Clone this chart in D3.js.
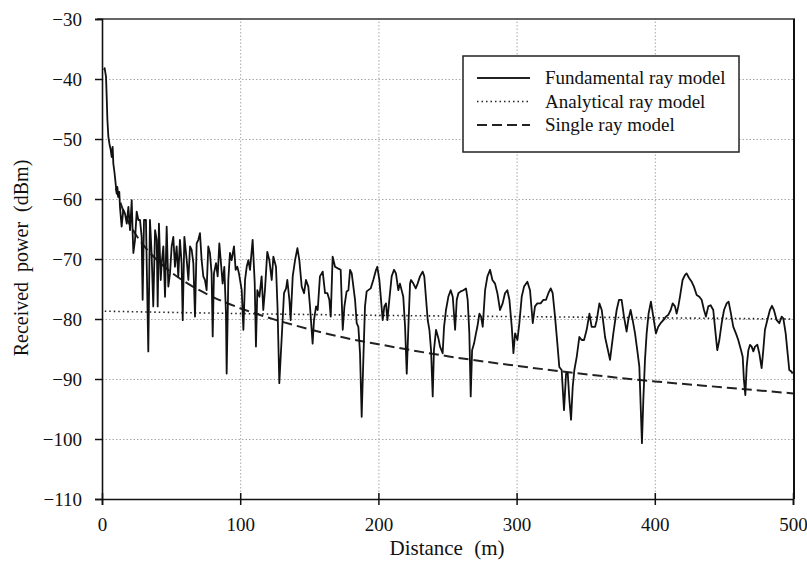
<!DOCTYPE html>
<html><head><meta charset="utf-8">
<script src="https://cdn.jsdelivr.net/npm/d3@7"></script>
<style>
html,body{margin:0;padding:0;background:#fff;}
svg text{font-family:"Liberation Serif","Times New Roman",serif;fill:#111;}
</style></head>
<body><svg id="chart" width="807" height="580"></svg>
<script>
// ---- data ----
const xTicks = [0, 100, 200, 300, 400, 500];
const yTicks = [-30, -40, -50, -60, -70, -80, -90, -100, -110];
const legendLabels = ["Fundamental ray model", "Analytical ray model", "Single ray model"];

const fundDistance = [1.5,1.9,2.9,3.4,3.9,4.6,5.3,6.3,7.0,7.7,8.2,9.0,9.6,10.6,11.1,11.8,12.5,13.0,14.2,15.4,16.6,17.9,19.1,20.3,21.5,22.2,22.7,23.9,25.1,26.3,27.5,28.7,29.4,30.4,31.8,33.5,34.7,35.9,37.1,38.4,39.6,40.3,41.2,42.5,43.2,44.4,45.6,46.8,48.0,49.2,50.4,51.6,52.8,54.0,55.2,56.4,57.6,58.4,59.6,61.3,62.5,63.7,64.9,66.1,67.3,68.5,69.7,70.9,72.1,73.3,74.5,75.7,76.9,78.1,79.3,80.1,81.0,82.5,83.7,84.9,85.9,87.3,88.5,89.7,90.2,91.4,92.6,93.8,95.5,96.7,97.9,99.1,101.1,102.3,103.5,104.7,105.9,
107.1,109.0,110.5,111.4,112.4,113.9,115.5,116.7,117.9,119.6,121.1,122.8,124.0,125.9,127.0,128.3,129.3,130.7,131.7,133.2,134.1,135.6,136.5,138.0,139.7,141.4,142.8,144.5,146.2,147.6,149.3,150.5,152.4,153.4,154.9,156.1,157.7,159.7,161.4,163.1,164.5,165.5,166.9,168.6,171.0,172.7,174.2,175.4,177.0,178.3,179.5,180.7,181.9,183.1,184.3,185.5,186.7,187.9,189.1,190.3,191.5,194.4,196.3,198.3,199.2,200.7,201.9,203.1,204.3,205.5,206.5,207.9,209.6,211.3,212.7,214.4,215.6,218.0,219.3,220.5,221.7,222.9,223.6,225.3,227.0,228.4,230.1,232.0,233.2,235.7,236.9,238.1,239.3,240.2,241.7,243.4,244.6,
246.5,247.5,248.9,250.6,252.3,253.8,255.5,256.7,257.9,259.6,261.5,263.4,264.6,265.8,266.8,267.8,269.2,270.6,271.6,273.1,274.3,275.5,277.2,278.9,280.8,282.5,284.4,286.1,288.0,289.9,291.6,293.3,294.8,296.5,297.7,298.9,300.6,302.0,303.7,305.4,307.8,309.7,311.7,313.3,315.0,317.4,319.4,321.3,323.0,324.7,326.1,327.8,329.5,330.9,332.6,334.3,335.8,337.0,338.2,339.4,340.6,341.8,343.5,345.4,347.1,348.8,350.7,352.7,354.3,356.8,358.0,359.9,361.6,362.8,364.0,367.6,368.8,370.0,372.4,374.1,
376.0,377.7,379.6,380.8,382.5,384.0,385.7,387.3,388.8,389.8,390.7,391.7,392.9,394.1,395.5,397.2,398.9,400.8,402.5,404.2,406.2,408.1,409.8,411.5,412.9,414.6,415.8,417.0,418.2,420.1,421.8,423.0,424.9,426.7,428.3,430.3,432.2,433.9,435.6,437.0,438.7,440.4,442.3,443.5,445.2,446.7,448.4,450.1,452.0,453.4,455.1,456.8,458.7,460.4,462.4,463.6,464.5,465.5,466.5,467.7,468.9,470.1,471.3,472.5,474.2,475.6,477.3,478.5,479.7,481.4,483.3,484.8,486.2,488.2,490.1,491.8,493.0,494.7,496.1,497.3,499.0,499.7];

const fundPower = [-38.5,-38.2,-39.6,-43.0,-46.8,-49.6,-50.7,-51.8,-53.0,-51.3,-54.1,-55.5,-56.8,-59.1,-58.0,-59.6,-58.8,-61.3,-64.6,-61.8,-62.4,-64.1,-61.3,-65.2,-60.2,-65.7,-69.0,-66.8,-62.1,-63.5,-63.5,-66.3,-76.8,-63.5,-63.5,-85.4,-63.5,-69.1,-77.9,-65.2,-66.8,-77.9,-64.1,-73.5,-70.7,-67.9,-76.3,-64.6,-74.6,-72.4,-67.9,-66.3,-71.3,-67.9,-72.9,-66.8,-70.7,-80.2,-66.3,-70.2,-73.5,-67.9,-68.5,-70.7,-79.6,-67.4,-66.8,-65.7,-70.2,-72.9,-73.5,-75.2,-67.9,-69.0,-72.4,-82.9,-72.4,-70.7,-72.9,-67.4,-70.2,-74.1,-71.3,-79.1,-89.1,-73.5,-69.0,-70.2,-67.9,-71.8,-71.3,-72.4,-75.2,-81.8,-73.5,-71.3,-70.2,
-71.8,-66.8,-74.0,-84.6,-75.2,-76.3,-72.9,-78.5,-75.2,-68.8,-70.2,-73.5,-69.6,-71.3,-78.0,-90.7,-86.3,-80.2,-75.7,-74.9,-73.5,-76.8,-80.2,-72.9,-70.2,-68.2,-70.2,-74.6,-75.7,-73.5,-74.6,-77.9,-84.1,-80.2,-77.9,-78.5,-72.9,-72.1,-75.7,-75.7,-76.8,-79.6,-69.6,-71.3,-71.6,-71.8,-81.8,-77.9,-75.4,-75.2,-71.8,-72.4,-74.6,-76.8,-80.7,-81.3,-85.7,-96.3,-86.8,-77.9,-75.4,-74.9,-73.5,-71.8,-71.3,-73.5,-76.8,-80.2,-77.9,-77.4,-80.2,-76.8,-72.9,-71.8,-72.4,-75.2,-74.1,-76.3,-81.3,-89.1,-81.3,-74.1,-73.5,-74.1,-74.9,-74.1,-72.9,-72.1,-72.9,-80.2,-81.8,-85.2,-92.9,-85.2,-81.8,-83.2,-84.6,
-85.7,-81.3,-78.5,-76.3,-75.2,-76.3,-81.8,-76.8,-75.7,-75.4,-75.2,-74.9,-76.8,-82.4,-92.9,-85.2,-84.1,-82.4,-81.3,-79.1,-79.6,-81.3,-75.2,-72.9,-71.8,-73.5,-74.1,-75.7,-78.5,-77.4,-75.7,-75.2,-76.8,-81.3,-85.7,-82.4,-83.5,-80.7,-76.3,-74.6,-73.8,-75.2,-80.7,-77.9,-77.4,-77.4,-76.8,-76.8,-75.7,-74.9,-75.7,-79.6,-84.1,-88.0,-88.5,-95.2,-89.1,-89.0,-93.5,-96.8,-91.3,-88.5,-86.3,-83.0,-83.5,-83.5,-81.8,-79.1,-81.3,-81.3,-80.2,-77.4,-78.5,-80.7,-83.0,-86.8,-84.6,-82.4,-78.5,-76.8,
-76.8,-79.6,-82.1,-80.2,-78.5,-80.2,-82.4,-85.2,-87.9,-94.6,-100.7,-93.5,-86.8,-82.4,-79.1,-77.1,-79.6,-82.4,-81.3,-80.7,-80.2,-79.6,-79.3,-78.5,-77.4,-77.9,-79.1,-77.9,-76.3,-73.5,-72.7,-72.4,-73.2,-73.8,-74.6,-76.0,-76.3,-76.8,-78.5,-79.6,-77.9,-77.7,-78.5,-81.3,-85.2,-83.5,-80.7,-78.5,-77.4,-77.1,-79.1,-81.3,-82.4,-83.5,-85.2,-86.3,-90.2,-92.7,-87.9,-85.2,-84.3,-84.6,-85.4,-84.6,-84.3,-85.7,-88.2,-85.2,-81.8,-80.2,-78.5,-77.8,-78.5,-80.2,-80.7,-79.6,-79.9,-82.4,-85.7,-88.5,-88.8,-89.1];

const analyticalDistance = [2, 50, 100, 200, 300, 400, 500];
const analyticalPower = [-78.7, -78.9, -79.1, -79.4, -79.6, -79.8, -80.0];

const singleDistance = [10, 15, 20, 30, 40, 50, 60, 80, 100, 125, 150, 175, 200, 250, 300, 350, 400, 450, 500];
const singlePower = [-58.2, -61.7, -64.2, -67.7, -70.2, -72.2, -73.8, -76.3, -78.2, -80.1, -81.7, -83.1, -84.2, -86.2, -87.8, -89.2, -90.4, -91.4, -92.4];

// ---- layout ----
const svg = d3.select("#chart");
const L = 102, R = 793, T = 19, B = 499;
const x = d3.scaleLinear().domain([0, 500]).range([L, R]);
const y = d3.scaleLinear().domain([-110, -30]).range([B, T]);
const serif = '"Liberation Serif","Times New Roman",serif';

// grid
const grid = svg.append("g").attr("class", "grid");
grid.append("g").attr("transform", `translate(0,${B})`)
  .call(d3.axisBottom(x).tickValues(xTicks.filter(v => v > 0 && v < 500)).tickSize(-(B - T)).tickFormat(""));
grid.append("g").attr("transform", `translate(${L},0)`)
  .call(d3.axisLeft(y).tickValues(yTicks.filter(v => v > -110 && v < -30)).tickSize(-(R - L)).tickFormat(""));
grid.selectAll(".domain").remove();
grid.selectAll("line").attr("stroke", "#a8a8a8").attr("stroke-width", 1).attr("stroke-dasharray", "1.5,2");

// frame top and right
svg.append("line").attr("x1", L - 5).attr("x2", R + 2).attr("y1", T).attr("y2", T).attr("stroke", "#333").attr("stroke-width", 1.5);
svg.append("line").attr("x1", R + 1).attr("x2", R + 1).attr("y1", T).attr("y2", B).attr("stroke", "#111").attr("stroke-width", 2);

// axes
const xAxis = svg.append("g").attr("transform", `translate(0,${B})`)
  .call(d3.axisBottom(x).tickValues(xTicks).tickSize(6).tickPadding(13).tickFormat(d3.format("d")));
const xAxisUp = svg.append("g").attr("transform", `translate(0,${B})`)
  .call(d3.axisBottom(x).tickValues(xTicks).tickSize(-6).tickFormat(""));
const yAxis = svg.append("g").attr("transform", `translate(${L},0)`)
  .call(d3.axisLeft(y).tickValues(yTicks).tickSize(7).tickPadding(13).tickFormat(d3.format("d")));
[xAxis, xAxisUp, yAxis].forEach(a => {
  a.selectAll(".domain").attr("stroke", "#111").attr("stroke-width", 1.6);
  a.selectAll("line").attr("stroke", "#111").attr("stroke-width", 1.5);
  a.selectAll("text").style("font-size", "19px").attr("fill", "#111").style("font-family", serif);
});
xAxisUp.select(".domain").remove();

// axis titles
svg.append("text").attr("x", 447).attr("y", 555).attr("text-anchor", "middle")
  .style("font-size", "21px").style("word-spacing", "6px").text("Distance (m)");
svg.append("text").attr("transform", `translate(28,258) rotate(-90)`).attr("text-anchor", "middle")
  .style("font-size", "20px").style("word-spacing", "5px").text("Received power (dBm)");

// series
const lineGen = d3.line().x(d => x(d[0])).y(d => y(d[1]));
const fund = fundDistance.map((d, i) => [d, fundPower[i]]);
const anal = analyticalDistance.map((d, i) => [d, analyticalPower[i]]);
const single = singleDistance.map((d, i) => [d, singlePower[i]]);

svg.append("path").datum(anal).attr("d", lineGen)
  .attr("fill", "none").attr("stroke", "#222").attr("stroke-width", 1.6).attr("stroke-dasharray", "1.5,3");
svg.append("path").datum(single).attr("d", d3.line().x(d => x(d[0])).y(d => y(d[1])).curve(d3.curveMonotoneX))
  .attr("fill", "none").attr("stroke", "#222").attr("stroke-width", 2).attr("stroke-dasharray", "10,5");
svg.append("path").datum(fund).attr("d", lineGen)
  .attr("fill", "none").attr("stroke", "#111").attr("stroke-width", 1.8).attr("stroke-linejoin", "round");

// legend
const lg = svg.append("g");
lg.append("rect").attr("x", 463).attr("y", 56).attr("width", 276).attr("height", 96)
  .attr("fill", "#fff").attr("stroke", "#222").attr("stroke-width", 1.5);
const dashes = [null, "1.5,3", "10,5"];
legendLabels.forEach((lab, i) => {
  const cy = 78 + i * 23.5;
  lg.append("line").attr("x1", 477).attr("x2", 530).attr("y1", cy).attr("y2", cy)
    .attr("stroke", "#222").attr("stroke-width", i === 0 ? 1.8 : (i === 1 ? 1.5 : 2))
    .attr("stroke-dasharray", dashes[i]);
  lg.append("text").attr("x", 545).attr("y", cy + 6).style("font-size", "19px").text(lab);
});
</script></body></html>
